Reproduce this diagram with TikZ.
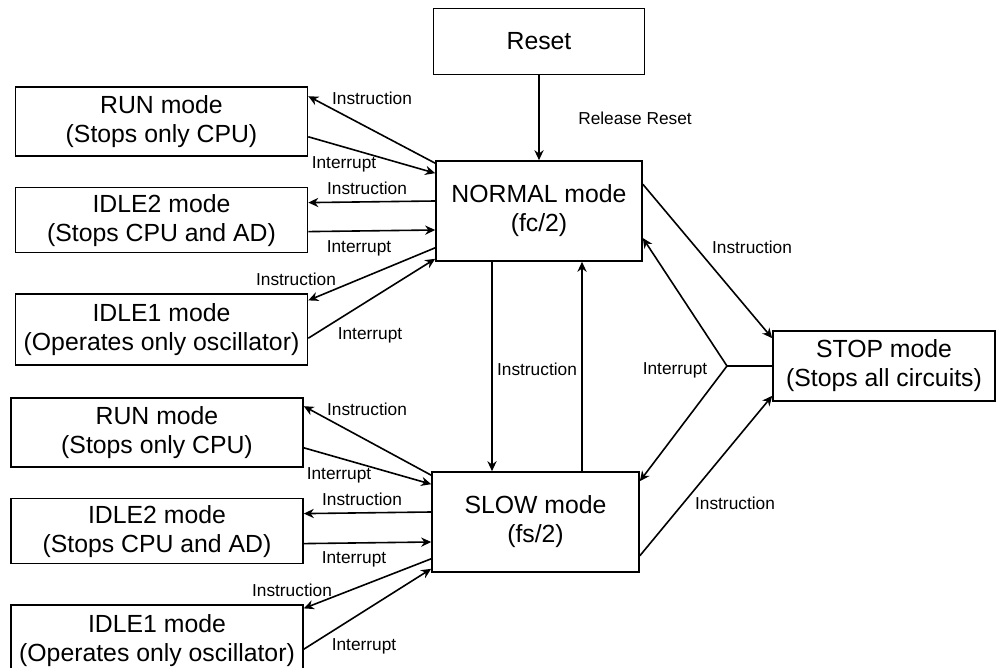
\documentclass[tikz,border=0pt]{standalone}
\usepackage{fontspec}
\setmainfont{Liberation Sans}
\usetikzlibrary{arrows.meta,positioning,calc}

\begin{document}
\begin{tikzpicture}[
  x=0.5pt, y=-0.5pt,
  line width=0.8pt,
  >={Stealth[length=5pt, width=4.6pt, inset=1.6pt]},
  mode/.style={draw, align=center, inner sep=0pt,
               font=\fontsize{12.4}{14.5}\selectfont,
               minimum width=146pt, minimum height=34.5pt},
  lbl/.style={font=\fontsize{8.65}{10}\selectfont, inner sep=0pt,
              text depth=0pt},
]
\clip (0,0) rectangle (996,668);

% Main modes
\node[mode, minimum width=103pt, minimum height=50pt] (normal) at (539,211)
  {NORMAL mode\\(fc/2)};
\node[mode, minimum width=105.5pt, minimum height=33pt, above=42.5pt of normal]
  (reset) {Reset};
\node[mode, minimum width=103.5pt, minimum height=50pt] (slow) at (535.5,522)
  {SLOW mode\\(fs/2)};
\node[mode, minimum width=111pt, minimum height=35pt] (stop) at (884,366)
  {STOP mode\\(Stops all circuits)};

% Sub modes of NORMAL (top)
\node[mode] (run1) at (161.5,121.5) {RUN mode\\(Stops only CPU)};
\node[mode, minimum height=32.5pt, below=15pt of run1] (idle2a)
  {IDLE2 mode\\(Stops CPU and AD)};
\node[mode, minimum height=35.5pt, below=20pt of idle2a] (idle1a)
  {IDLE1 mode\\(Operates only oscillator)};

% Sub modes of SLOW (bottom)
\node[mode] (run2) at (157,432.5) {RUN mode\\(Stops only CPU)};
\node[mode, minimum height=32.5pt, below=15pt of run2] (idle2b)
  {IDLE2 mode\\(Stops CPU and AD)};
\node[mode, minimum height=35.5pt, below=20pt of idle2b] (idle1b)
  {IDLE1 mode\\(Operates only oscillator)};

% Reset
\draw[->] (reset.south) -- (reset.south |- normal.north);
\node[lbl] (relrst) at (635,118) {Release Reset};

% NORMAL <-> sub modes
\draw[->] ([yshift=-1.5pt]normal.north west) -- ([yshift=-5pt]run1.north east);
\draw[->] ([yshift=10pt]run1.south east) -- ([yshift=-6.5pt]normal.north west);
\draw[->] ([yshift=5pt]normal.west) -- ([yshift=8.75pt]idle2a.east);
\draw[->] ([yshift=-5.75pt]idle2a.east) -- ([yshift=-9.5pt]normal.west);
\draw[->] ([yshift=7pt]normal.south west) -- ([yshift=-3.5pt]idle1a.north east);
\draw[->] ([yshift=-4.25pt]idle1a.east) -- ([yshift=1.5pt]normal.south west);

\node[lbl] (ins1) at (372,98) {Instruction};
\node[lbl] (int1) at (344,163) {Interrupt};
\node[lbl] (ins2) at (367,188) {Instruction};
\node[lbl] (int2) at (359,247) {Interrupt};
\node[lbl] (ins3) at (296,279) {Instruction};
\node[lbl] (int3) at (370,334) {Interrupt};

% SLOW <-> sub modes
\draw[->] ([yshift=-2pt]slow.north west) -- ([yshift=-4.5pt]run2.north east);
\draw[->] ([yshift=10pt]run2.south east) -- ([yshift=-6.5pt]slow.north west);
\draw[->] ([yshift=5pt]slow.west) -- ([yshift=8.75pt]idle2b.east);
\draw[->] ([yshift=-6.25pt]idle2b.east) -- ([yshift=-10pt]slow.west);
\draw[->] ([yshift=7pt]slow.south west) -- ([yshift=-2pt]idle1b.north east);
\draw[->] ([yshift=-4.25pt]idle1b.east) -- ([yshift=2pt]slow.south west);

\node[lbl] (ins4) at (367,409) {Instruction};
\node[lbl] (int4) at (339,474) {Interrupt};
\node[lbl] (ins5) at (362,499) {Instruction};
\node[lbl] (int5) at (354,558) {Interrupt};
\node[lbl] (ins6) at (292,590) {Instruction};
\node[lbl] (int6) at (364,645) {Interrupt};

% NORMAL <-> SLOW
\draw[->] ([xshift=-23.5pt]normal.south) -- ([xshift=-21.75pt]slow.north);
\draw[->] ([xshift=23.25pt]slow.north) -- ([xshift=21.5pt]normal.south);
\node[lbl] (ins7) at (537,369) {Instruction};

% STOP
\coordinate (fork) at (727,366);
\draw[->] ([yshift=-12pt]normal.north east) -- ([yshift=-4pt]stop.north west);
\draw[->] ([yshift=8.5pt]slow.south east) -- ([yshift=3pt]stop.south west);
\draw[->] (stop.west) -- (fork) -- ([yshift=-13.5pt]normal.east);
\draw[->] (fork) -- ([yshift=-5pt]slow.north east);

\node[lbl] (ins8) at (752,247) {Instruction};
\node[lbl] (ins9) at (735,503) {Instruction};
\node[lbl] (int7) at (675,369) {Interrupt};

\end{tikzpicture}
\end{document}
